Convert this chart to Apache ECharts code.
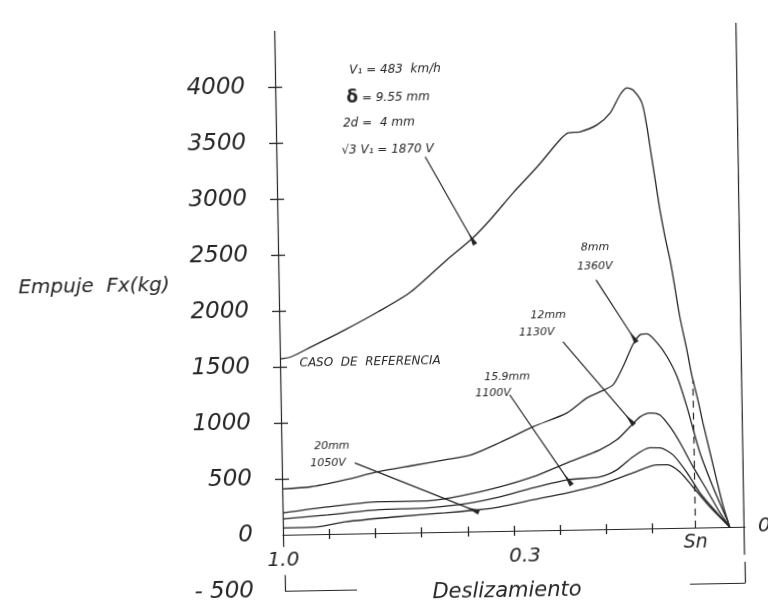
<!DOCTYPE html>
<html>
<head>
<meta charset="utf-8">
<script src="https://cdn.jsdelivr.net/npm/echarts@6/dist/echarts.min.js"></script>
<style>
html,body{margin:0;padding:0;background:#fff;overflow:hidden;}
#wrap{width:768px;height:609px;transform:rotate(-1deg);transform-origin:384px 304.5px;}
#chart{width:768px;height:609px;}
</style>
</head>
<body>
<div id="wrap"><div id="chart"></div></div>
<script>
// ---------------- data (slip on x, thrust Fx in kg on y) ----------------
const seriesNames = ['√3 V₁ = 1870 V (caso de referencia)', '8 mm, 1360 V', '12 mm, 1130 V', '15.9 mm, 1100 V', '20 mm, 1050 V'];

const slipRef  = [1.0, 0.976, 0.932, 0.858, 0.786, 0.714, 0.635, 0.578, 0.540, 0.489, 0.436, 0.386, 0.368, 0.342, 0.305, 0.276, 0.254, 0.239, 0.226, 0.207, 0.197, 0.191, 0.182, 0.172, 0.162, 0.152, 0.146, 0.133, 0.119, 0.109, 0.097, 0.087, 0.073, 0.059, 0.047, 0.033];
const forceRef = [1571, 1587, 1673, 1820, 1975, 2149, 2429, 2621, 2779, 3017, 3245, 3482, 3544, 3551, 3610, 3716, 3875, 3936, 3917, 3800, 3585, 3406, 3137, 2842, 2600, 2394, 2242, 1884, 1588, 1355, 1140, 934, 674, 414, 199, 0];

const slip8  = [1.0, 0.938, 0.864, 0.792, 0.720, 0.647, 0.590, 0.527, 0.455, 0.381, 0.337, 0.309, 0.280, 0.258, 0.236, 0.220, 0.205, 0.183, 0.162, 0.141, 0.121, 0.0945, 0.0677, 0.0386, 0.033];
const force8 = [410, 424, 481, 547, 596, 644, 684, 790, 925, 1044, 1175, 1227, 1287, 1446, 1641, 1729, 1737, 1655, 1529, 1349, 1079, 667, 361, 64, 0];

const slip12  = [1.0, 0.902, 0.793, 0.685, 0.613, 0.529, 0.457, 0.383, 0.311, 0.274, 0.245, 0.223, 0.201, 0.180, 0.158, 0.137, 0.110, 0.081, 0.0535, 0.033];
const force12 = [196, 243, 280, 281, 320, 394, 478, 598, 709, 796, 910, 997, 1031, 1012, 903, 759, 543, 335, 128, 0];

const slip159  = [1.0, 0.902, 0.793, 0.685, 0.592, 0.529, 0.457, 0.383, 0.312, 0.275, 0.240, 0.203, 0.181, 0.153, 0.123, 0.096, 0.060, 0.033];
const force159 = [142, 171, 208, 218, 256, 305, 380, 446, 468, 528, 641, 719, 717, 653, 490, 310, 128, 0];

const slip20  = [1.0, 0.924, 0.865, 0.757, 0.649, 0.577, 0.529, 0.458, 0.384, 0.312, 0.240, 0.188, 0.166, 0.139, 0.111, 0.075, 0.033];
const force20 = [61, 66, 106, 143, 171, 192, 216, 273, 330, 397, 499, 566, 565, 500, 364, 183, 0];

// axis ticks / labels
const yLabelValues = [-500, 0, 500, 1000, 1500, 2000, 2500, 3000, 3500, 4000];
const yTickValues  = [500, 1000, 1500, 2000, 2500, 3000, 3500, 4000];
const xTickValues  = [0.9, 0.8, 0.7, 0.6, 0.5, 0.4, 0.3, 0.2];
const xLabelValues = [1, 0.477];
const xLabelTexts  = ['1.0', '0.3'];
const snSlip = 0.107;          // Sn marker position
const snTopForce = 1320;

// annotations (text anchored in data coordinates)
const annoTexts = ['V₁ = 483  km/h', '{d|δ} = 9.55 mm', '2d =  4 mm', '√3 V₁ = 1870 V', 'CASO  DE  REFERENCIA', '8mm', '1360V', '12mm', '1130V', '15.9mm', '1100V', '20mm', '1050V'];
const annoSlip  = [0.740, 0.756, 0.777, 0.759, 0.805, 0.314, 0.315, 0.418, 0.443, 0.509, 0.540, 0.891, 0.900];
const annoForce = [4133, 3884, 3662, 3420, 1530, 2513, 2343, 1922, 1763, 1375, 1234, 786, 636];

// arrows from labels to curves
const arrowFrom = [[0.678, 3352], [0.313, 2227], [0.387, 1679], [0.504, 1214], [0.842, 631]];
const arrowTo   = [[0.580, 2612], [0.235, 1712], [0.245, 972], [0.381, 446], [0.588, 193]];

// ---------------- chart ----------------
const FONT = 'DejaVu Sans';
const INK = '#262626';
const zip = (xs, ys) => xs.map((x, i) => [x, ys[i]]);

const lineItem = (a, b) => [{coord: a, symbol: 'none'}, {coord: b, symbol: 'none'}];

const decorLines = [
  lineItem([0.999, -110], [0.999, 4500]),      // left (force) axis line
  lineItem([0.002, -250], [0.0005, 4500]),     // right border line
  lineItem([0.001, -313], [0.001, -500]),      // right bracket
  lineItem([0.121, -500], [0.001, -500]),
  lineItem([0.998, -360], [0.998, -500]),      // left bracket
  lineItem([0.998, -500], [0.842, -500])
];
const arrowLines = arrowFrom.map((a, i) => [
  {coord: a, symbol: 'none'},
  {coord: arrowTo[i], symbol: 'path://M0,0 L4,13 L8,0 Z', symbolSize: [5, 13]}
]);
const snLine = [[
  {coord: [snSlip, 0], symbol: 'none', lineStyle: {type: [7, 5], width: 1.2, color: INK},
   label: {show: true, position: 'start', formatter: 'Sn', distance: 6, fontSize: 19, fontStyle: 'italic', fontFamily: FONT, color: INK}},
  {coord: [snSlip, snTopForce], symbol: 'none'}
]];

const annoPoints = annoTexts.map((t, i) => ({
  name: t,
  coord: [annoSlip[i], annoForce[i]],
  label: {fontSize: i <= 4 ? 12 : 11}
}));

const curveStyle = {color: INK, width: 1.3};
const makeSeries = (name, xs, ys, extra) => Object.assign({
  name, type: 'line', data: zip(xs, ys), showSymbol: false, smooth: 0.25,
  lineStyle: curveStyle, itemStyle: {color: INK}, silent: true, z: 3
}, extra || {});

const nameFont = {fontStyle: 'italic', fontFamily: FONT, color: INK};

const option = {
  animation: false,
  backgroundColor: '#ffffff',
  grid: {left: 279, right: 27, top: 29, bottom: 20, containLabel: false, outerBoundsMode: 'none'},
  xAxis: [{
    type: 'value', min: 0, max: 1, interval: 0.1, inverse: true, position: 'bottom',
    axisLine: {show: true, onZero: true, onZeroAxisIndex: 0, lineStyle: {color: INK, width: 1.2}},
    axisTick: {show: true, length: 5, customValues: xTickValues, lineStyle: {color: INK, width: 1.3}},
    axisLabel: {customValues: xLabelValues, margin: -40, fontSize: 20, fontStyle: 'italic', fontFamily: FONT, color: INK,
      formatter: v => { const i = xLabelValues.findIndex(t => Math.abs(t - v) < 1e-6); return i >= 0 ? xLabelTexts[i] : ''; }},
    splitLine: {show: false},
    name: 'Deslizamiento', nameLocation: 'middle', nameGap: -6, nameMoveOverlap: false,
    nameTextStyle: Object.assign({fontSize: 21, padding: [0, 16, 0, 0]}, nameFont)
  }, {
    type: 'value', min: 0, max: 1, interval: 0.1, inverse: true, position: 'bottom',
    axisLine: {show: false, onZero: true, onZeroAxisIndex: 0},
    axisTick: {show: true, inside: true, length: 5, customValues: xTickValues, lineStyle: {color: INK, width: 1.3}},
    axisLabel: {show: false}, splitLine: {show: false},
    name: '0', nameLocation: 'start', nameGap: 13,
    nameTextStyle: Object.assign({fontSize: 20}, nameFont)
  }],
  yAxis: [{
    type: 'value', min: -500, max: 4500, interval: 500, position: 'left',
    axisLine: {show: false, onZero: false},
    axisTick: {show: true, length: 7, customValues: yTickValues, lineStyle: {color: INK, width: 1.3}},
    axisLabel: {customValues: yLabelValues, margin: 30, fontSize: 23, fontStyle: 'italic', fontFamily: FONT, color: INK,
      formatter: v => v < 0 ? '- ' + Math.abs(v) : String(v)},
    splitLine: {show: false},
    name: '{t|Empuje  Fx(kg)}', nameLocation: 'middle', nameRotate: 0, nameGap: 109,
    nameTextStyle: Object.assign({fontSize: 20, rich: {t: Object.assign({fontSize: 20, padding: [0, 0, 54, 0]}, nameFont)}}, nameFont)
  }, {
    type: 'value', min: -500, max: 4500, interval: 500, position: 'left',
    axisLine: {show: false, onZero: false},
    axisTick: {show: true, inside: true, length: 7, customValues: yTickValues, lineStyle: {color: INK, width: 1.3}},
    axisLabel: {show: false}, splitLine: {show: false}
  }],
  series: [
    makeSeries(seriesNames[0], slipRef, forceRef, {
      markLine: {
        silent: true, animation: false, symbol: 'none',
        lineStyle: {color: INK, width: 1.2, type: 'solid'},
        label: {show: false},
        emphasis: {disabled: true},
        data: decorLines.concat(arrowLines, snLine)
      },
      markPoint: {
        silent: true, animation: false, symbol: 'circle', symbolSize: 0,
        label: {show: true, position: 'inside', formatter: p => p.name, fontFamily: FONT, fontStyle: 'italic', color: INK,
          rich: {d: {fontSize: 17, fontWeight: 'bold', fontStyle: 'normal', fontFamily: FONT, color: INK}}},
        emphasis: {disabled: true},
        data: annoPoints
      }
    }),
    makeSeries(seriesNames[1], slip8, force8),
    makeSeries(seriesNames[2], slip12, force12),
    makeSeries(seriesNames[3], slip159, force159),
    makeSeries(seriesNames[4], slip20, force20)
  ]
};

const chart = echarts.init(document.getElementById('chart'));
chart.setOption(option);
</script>
</body>
</html>
